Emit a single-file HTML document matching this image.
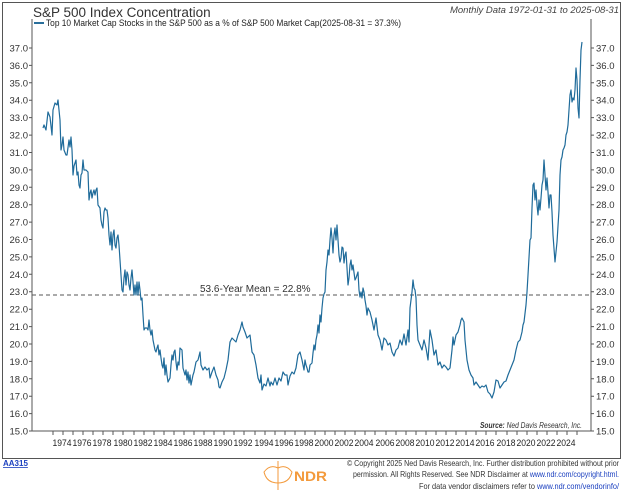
<!DOCTYPE html>
<html><head><meta charset="utf-8"><style>
body{margin:0;background:#fff;width:624px;height:492px;overflow:hidden;font-family:"Liberation Sans",sans-serif}
svg{display:block}
</style></head><body>
<svg width="624" height="492" viewBox="0 0 624 492" xmlns="http://www.w3.org/2000/svg" font-family="Liberation Sans, sans-serif">
<rect x="2.5" y="2.5" width="618" height="456" fill="none" stroke="#555" stroke-width="1"/>
<text x="33" y="17" font-size="13.5" fill="#333">S&amp;P 500 Index Concentration</text>
<text x="619" y="13" font-size="9.5" font-style="italic" fill="#444" text-anchor="end">Monthly Data 1972-01-31 to 2025-08-31</text>
<line x1="34" y1="23" x2="44" y2="23" stroke="#2a6f9b" stroke-width="2"/>
<text x="46" y="26" font-size="9.5" fill="#222" textLength="355" lengthAdjust="spacingAndGlyphs">Top 10 Market Cap Stocks in the S&amp;P 500 as a % of S&amp;P 500 Market Cap(2025-08-31 = 37.3%)</text>
<line x1="32" y1="19" x2="32" y2="431" stroke="#555"/>
<line x1="591" y1="19" x2="591" y2="431" stroke="#555"/>
<line x1="32" y1="431" x2="591" y2="431" stroke="#555"/>
<line x1="32" y1="295" x2="591" y2="295" stroke="#555" stroke-dasharray="4,3"/>
<text x="200" y="292" font-size="10" fill="#333">53.6-Year Mean = 22.8%</text>
<text x="480" y="428" font-size="8.5" font-style="italic" fill="#333" textLength="102" lengthAdjust="spacingAndGlyphs"><tspan font-weight="bold">Source:</tspan>  Ned Davis Research, Inc.</text>
<polyline fill="none" stroke="#1f6b9a" stroke-width="1.2" stroke-linejoin="round" points="43,128 44,125 46,130 48,112 50,117 52,135 53,110 55,103 57,105 58,100 60,120 61,150 62,145 63,137 64,150 66,155 67,155 69,140 70,147 71,137 72,150 73,175 74,166 76,160 77,175 78,172 79,185 80,188 81,175 82,173 83,160 84,170 86,170 88,172 89,200 90,193 91,190 92,198 93,193 94,190 95,195 96,190 97,188 98,205 100,208 101,220 102,225 103,228 104,212 105,208 106,210 107,210 108,218 109,235 110,245 111,232 112,250 113,235 114,230 115,245 116,248 117,238 118,235 119,245 120,260 121,275 122,290 123,292 124,278 125,270 126,285 127,272 128,275 129,285 130,290 131,278 132,270 133,282 134,295 135,285 136,295 137,282 138,295 139,282 140,290 141,300 142,298 143,315 144,330 145,328 147,328 148,330 149,320 150,330 151,335 152,330 153,340 154,345 155,350 156,352 157,348 158,345 159,355 160,350 161,358 162,365 163,368 164,358 165,375 166,365 167,375 168,382 170,378 171,365 172,355 173,360 174,352 175,350 176,362 177,370 178,362 179,365 180,348 182,350 183,368 185,375 186,370 187,380 188,372 189,383 190,375 191,385 193,375 194,372 196,362 198,360 200,352 201,365 203,370 205,367 207,370 209,368 210,378 212,372 214,367 216,375 218,380 219,387 220,388 222,382 224,378 226,370 228,360 230,342 232,338 234,340 236,342 238,335 240,330 242,322 243,327 245,332 247,338 248,337 250,335 252,352 254,355 256,365 258,378 260,383 261,375 262,390 264,384 266,386 268,378 270,386 271,382 273,385 275,378 277,385 279,378 281,381 283,372 285,375 287,375 288,385 290,376 292,372 294,374 296,368 298,355 300,352 302,360 303,365 304,370 305,360 306,365 307,368 308,372 309,372 310,365 312,363 313,353 314,345 315,350 316,340 317,335 318,325 319,333 320,315 321,322 322,308 323,298 324,294 325,292 326,270 327,262 328,250 329,255 330,240 331,228 332,238 333,253 334,235 335,228 336,240 337,225 338,240 339,255 340,262 341,258 342,247 343,248 344,263 345,255 346,252 347,268 348,285 349,278 350,265 351,260 352,270 353,265 355,280 356,278 358,272 359,290 360,297 361,292 362,298 363,288 364,292 365,300 366,306 367,315 368,308 370,312 372,320 374,330 376,318 378,335 380,340 382,350 384,338 386,340 388,345 390,343 392,352 394,356 396,350 398,348 400,340 402,345 404,334 406,345 408,330 409,342 410,308 412,292 413,280 414,288 415,290 416,298 417,325 418,340 420,345 422,350 424,340 426,348 428,360 430,330 432,340 434,355 436,350 438,365 440,362 442,368 444,365 446,367 448,370 450,368 452,350 453,337 454,345 456,335 458,332 460,325 461,320 462,318 464,322 465,340 467,360 469,370 471,375 473,378 474,385 476,382 478,385 480,388 482,386 484,387 486,385 488,392 490,394 492,398 494,392 496,380 498,381 500,388 502,385 504,382 506,381 508,375 510,370 512,365 514,360 516,350 518,342 520,340 522,332 523,325 524,322 526,305 527,292 528,275 530,240 531,238 532,208 533,185 534,183 535,200 536,190 537,205 538,215 539,200 540,210 541,198 542,185 543,180 544,160 545,175 546,190 547,178 548,192 549,208 550,195 551,195 552,212 553,235 555,262 557,242 559,210 560,175 561,160 562,157 563,150 564,148 565,145 566,135 567,132 568,125 569,110 570,95 571,90 572,102 573,98 574,100 575,90 576,68 577,80 578,108 579,118 580,80 581,50 582,42"/>
<text x="3" y="466" font-size="8" fill="#1a3fbf" font-weight="bold" text-decoration="underline">AA315</text>
<g stroke="#f39a3c" stroke-width="1" fill="none">
<line x1="278" y1="461" x2="278" y2="490"/>
<path d="M264 472 q6 -8 14 -4 q8 -4 14 4 q-2 8 -8 10 q-6 2 -12 0 q-6 -2 -8 -10z"/>
</g>
<text x="294" y="481" font-size="14" font-weight="bold" fill="#f39a3c" textLength="33" lengthAdjust="spacingAndGlyphs">NDR</text>
<g font-size="8.3" fill="#333" text-anchor="end">
<text x="619" y="466" textLength="272" lengthAdjust="spacingAndGlyphs">© Copyright 2025 Ned Davis Research, Inc. Further distribution prohibited without prior</text>
<text x="619" y="477" textLength="266" lengthAdjust="spacingAndGlyphs">permission. All Rights Reserved. See NDR Disclaimer at <tspan fill="#1a3fbf">www.ndr.com/copyright.html.</tspan></text>
<text x="619" y="489" textLength="200" lengthAdjust="spacingAndGlyphs">For data vendor disclaimers refer to <tspan fill="#1a3fbf">www.ndr.com/vendorinfo/</tspan></text>
</g>
<g fill="#333" font-size="9.5">
<text x="28" y="51.5" text-anchor="end">37.0</text><text x="28" y="68.9" text-anchor="end">36.0</text><text x="28" y="86.3" text-anchor="end">35.0</text><text x="28" y="103.7" text-anchor="end">34.0</text><text x="28" y="121.1" text-anchor="end">33.0</text><text x="28" y="138.6" text-anchor="end">32.0</text><text x="28" y="156.0" text-anchor="end">31.0</text><text x="28" y="173.4" text-anchor="end">30.0</text><text x="28" y="190.8" text-anchor="end">29.0</text><text x="28" y="208.2" text-anchor="end">28.0</text><text x="28" y="225.6" text-anchor="end">27.0</text><text x="28" y="243.0" text-anchor="end">26.0</text><text x="28" y="260.4" text-anchor="end">25.0</text><text x="28" y="277.8" text-anchor="end">24.0</text><text x="28" y="295.2" text-anchor="end">23.0</text><text x="28" y="312.7" text-anchor="end">22.0</text><text x="28" y="330.1" text-anchor="end">21.0</text><text x="28" y="347.5" text-anchor="end">20.0</text><text x="28" y="364.9" text-anchor="end">19.0</text><text x="28" y="382.3" text-anchor="end">18.0</text><text x="28" y="399.7" text-anchor="end">17.0</text><text x="28" y="417.1" text-anchor="end">16.0</text><text x="28" y="434.5" text-anchor="end">15.0</text>
<text x="596" y="51.5">37.0</text><text x="596" y="68.9">36.0</text><text x="596" y="86.3">35.0</text><text x="596" y="103.7">34.0</text><text x="596" y="121.1">33.0</text><text x="596" y="138.6">32.0</text><text x="596" y="156.0">31.0</text><text x="596" y="173.4">30.0</text><text x="596" y="190.8">29.0</text><text x="596" y="208.2">28.0</text><text x="596" y="225.6">27.0</text><text x="596" y="243.0">26.0</text><text x="596" y="260.4">25.0</text><text x="596" y="277.8">24.0</text><text x="596" y="295.2">23.0</text><text x="596" y="312.7">22.0</text><text x="596" y="330.1">21.0</text><text x="596" y="347.5">20.0</text><text x="596" y="364.9">19.0</text><text x="596" y="382.3">18.0</text><text x="596" y="399.7">17.0</text><text x="596" y="417.1">16.0</text><text x="596" y="434.5">15.0</text>
</g>
<path stroke="#555" d="M29 48h3M29 65.4h3M29 82.8h3M29 100.2h3M29 117.6h3M29 135.1h3M29 152.5h3M29 169.9h3M29 187.3h3M29 204.7h3M29 222.1h3M29 239.5h3M29 256.9h3M29 274.3h3M29 291.7h3M29 309.2h3M29 326.6h3M29 344h3M29 361.4h3M29 378.8h3M29 396.2h3M29 413.6h3M29 431h3M591 48h3M591 65.4h3M591 82.8h3M591 100.2h3M591 117.6h3M591 135.1h3M591 152.5h3M591 169.9h3M591 187.3h3M591 204.7h3M591 222.1h3M591 239.5h3M591 256.9h3M591 274.3h3M591 291.7h3M591 309.2h3M591 326.6h3M591 344h3M591 361.4h3M591 378.8h3M591 396.2h3M591 413.6h3M591 431h3"/>
<path stroke="#555" d="M53 431v4M63 431v4M73 431v4M83 431v4M93 431v4M103 431v4M113 431v4M123 431v4M134 431v4M144 431v4M154 431v4M164 431v4M174 431v4M184 431v4M194 431v4M204 431v4M214 431v4M224 431v4M234 431v4M244 431v4M255 431v4M265 431v4M275 431v4M285 431v4M295 431v4M305 431v4M315 431v4M325 431v4M335 431v4M345 431v4M355 431v4M365 431v4M375 431v4M386 431v4M396 431v4M406 431v4M416 431v4M426 431v4M436 431v4M446 431v4M456 431v4M466 431v4M476 431v4M486 431v4M496 431v4M507 431v4M517 431v4M527 431v4M537 431v4M547 431v4M557 431v4M567 431v4M577 431v4"/>
<g font-size="9.5" fill="#222" text-anchor="middle">
<text x="62" y="446" textLength="19" lengthAdjust="spacingAndGlyphs">1974</text><text x="82" y="446" textLength="19" lengthAdjust="spacingAndGlyphs">1976</text><text x="102" y="446" textLength="19" lengthAdjust="spacingAndGlyphs">1978</text><text x="123" y="446" textLength="19" lengthAdjust="spacingAndGlyphs">1980</text><text x="143" y="446" textLength="19" lengthAdjust="spacingAndGlyphs">1982</text><text x="163" y="446" textLength="19" lengthAdjust="spacingAndGlyphs">1984</text><text x="183" y="446" textLength="19" lengthAdjust="spacingAndGlyphs">1986</text><text x="203" y="446" textLength="19" lengthAdjust="spacingAndGlyphs">1988</text><text x="223" y="446" textLength="19" lengthAdjust="spacingAndGlyphs">1990</text><text x="243" y="446" textLength="19" lengthAdjust="spacingAndGlyphs">1992</text><text x="264" y="446" textLength="19" lengthAdjust="spacingAndGlyphs">1994</text><text x="284" y="446" textLength="19" lengthAdjust="spacingAndGlyphs">1996</text><text x="304" y="446" textLength="19" lengthAdjust="spacingAndGlyphs">1998</text><text x="324" y="446" textLength="19" lengthAdjust="spacingAndGlyphs">2000</text><text x="344" y="446" textLength="19" lengthAdjust="spacingAndGlyphs">2002</text><text x="364" y="446" textLength="19" lengthAdjust="spacingAndGlyphs">2004</text><text x="385" y="446" textLength="19" lengthAdjust="spacingAndGlyphs">2006</text><text x="405" y="446" textLength="19" lengthAdjust="spacingAndGlyphs">2008</text><text x="425" y="446" textLength="19" lengthAdjust="spacingAndGlyphs">2010</text><text x="445" y="446" textLength="19" lengthAdjust="spacingAndGlyphs">2012</text><text x="465" y="446" textLength="19" lengthAdjust="spacingAndGlyphs">2014</text><text x="485" y="446" textLength="19" lengthAdjust="spacingAndGlyphs">2016</text><text x="506" y="446" textLength="19" lengthAdjust="spacingAndGlyphs">2018</text><text x="526" y="446" textLength="19" lengthAdjust="spacingAndGlyphs">2020</text><text x="546" y="446" textLength="19" lengthAdjust="spacingAndGlyphs">2022</text><text x="566" y="446" textLength="19" lengthAdjust="spacingAndGlyphs">2024</text>
</g>
</svg>
</body></html>
